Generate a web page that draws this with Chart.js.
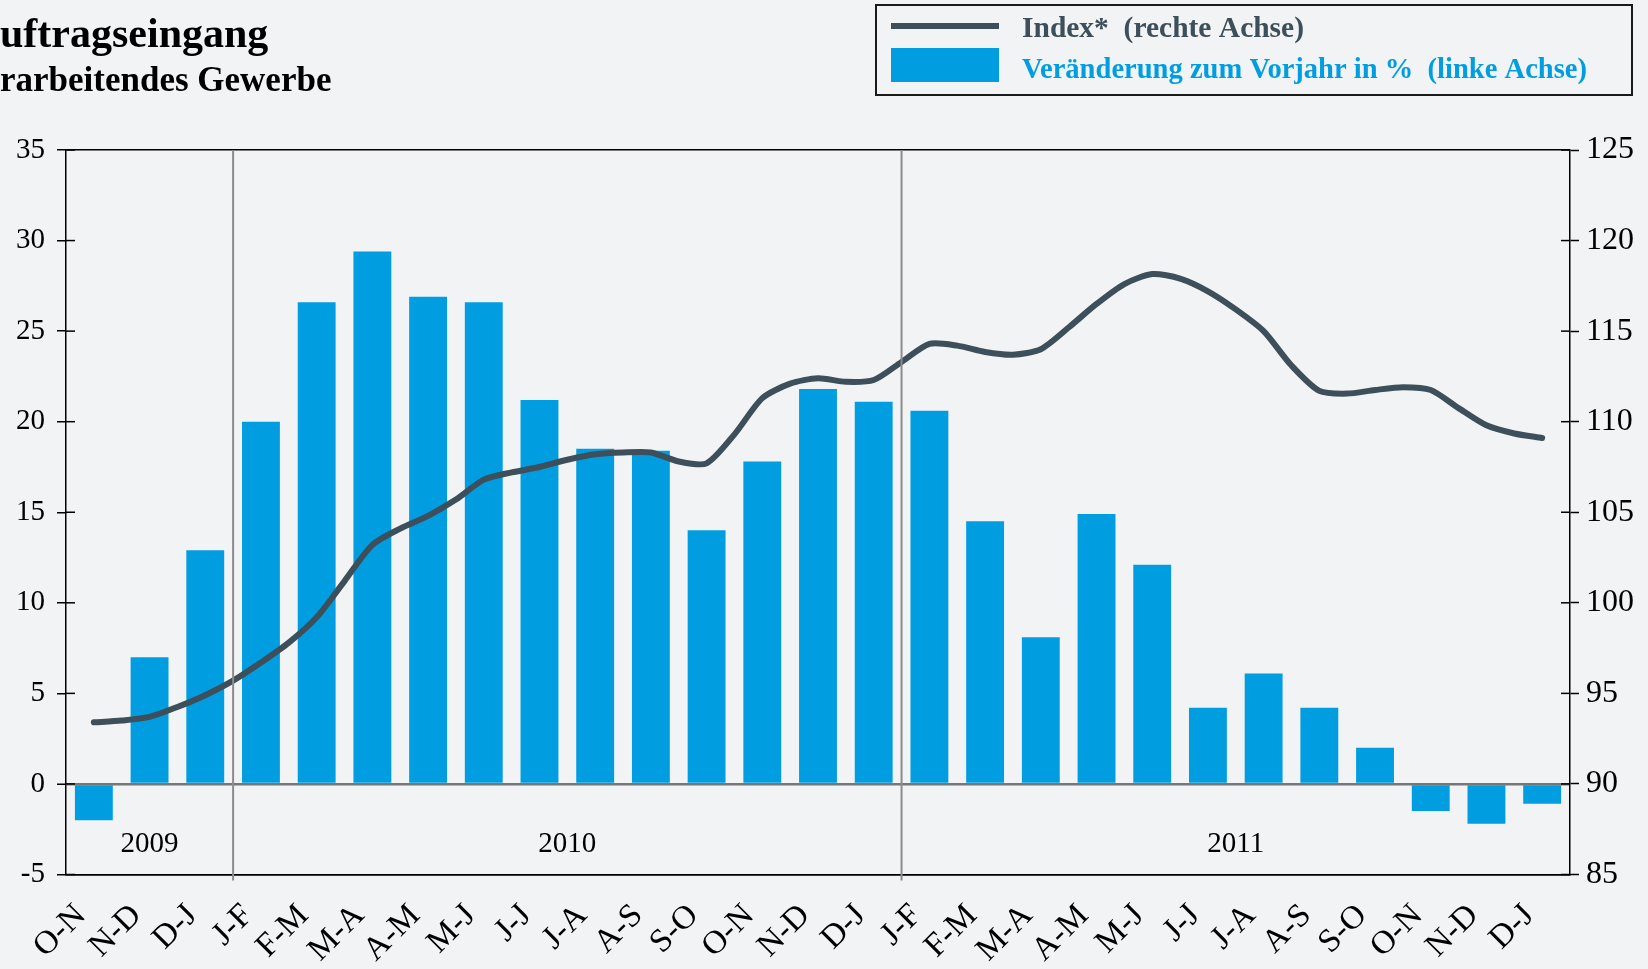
<!DOCTYPE html>
<html>
<head>
<meta charset="utf-8">
<script src="https://cdn.jsdelivr.net/npm/chart.js@4.4.1/dist/chart.umd.min.js"></script>
<style>
    html, body { margin: 0; padding: 0; background: #f2f3f5; }
    #wrap { width: 1648px; height: 969px; position: relative; }
</style>
</head>
<body>
<div id="wrap"><canvas id="orderChart"></canvas></div>
<script>
// Auftragseingang - Verarbeitendes Gewerbe
const periods = ['O-N', 'N-D', 'D-J', 'J-F', 'F-M', 'M-A', 'A-M', 'M-J', 'J-J', 'J-A', 'A-S', 'S-O', 'O-N', 'N-D', 'D-J',
    'J-F', 'F-M', 'M-A', 'A-M', 'M-J', 'J-J', 'J-A', 'A-S', 'S-O', 'O-N', 'N-D', 'D-J'];
const yearLabels = ['2009', '2010', '2011'];
const yearStart = [0, 3, 15]; // first period of each year

// Veränderung zum Vorjahr in % (linke Achse)
const changePct = [-2.0, 7.0, 12.9, 20.0, 26.6, 29.4, 26.9, 26.6, 21.2, 18.5, 18.4, 14.0, 17.8, 21.8, 21.1,
    20.6, 14.5, 8.1, 14.9, 12.1, 4.2, 6.1, 4.2, 2.0, -1.5, -2.2, -1.1];

// Index* (rechte Achse), monthly - two values per period
const indexValues = [93.4, 93.5, 93.7, 94.25, 94.9, 95.7, 96.7, 97.8, 99.2, 101.2, 103.2, 104.1, 104.8, 105.7,
    106.8, 107.2, 107.5, 107.9, 108.2, 108.3, 108.3, 107.8, 107.7, 109.3, 111.3, 112.1, 112.4, 112.2, 112.3,
    113.3, 114.3, 114.2, 113.85, 113.7, 114.0, 115.2, 116.5, 117.6, 118.15, 117.9, 117.2, 116.2, 115.0, 113.1,
    111.7, 111.55, 111.75, 111.9, 111.75, 110.75, 109.8, 109.35, 109.1];

// axis ranges / tick step
const leftRange = [-5, 35];
const rightRange = [85, 125];
const tickStep = 5;

const barColor = '#009ee0';
const lineColor = '#3d4f5a';
const serif = "'Liberation Serif', 'Times New Roman', serif";

const chartDecor = {
    id: 'chartDecor',
    beforeDraw(chart) {
        const ctx = chart.ctx;
        ctx.save();
        ctx.fillStyle = '#f2f3f5';
        ctx.fillRect(0, 0, chart.width, chart.height);
        ctx.restore();
    },
    afterDatasetsDraw(chart) {
        const ctx = chart.ctx;
        const area = chart.chartArea;
        const x = chart.scales.x;
        ctx.save();
        // year separators
        const seps = yearStart.slice(1).map(i => (x.getPixelForValue(i - 1) + x.getPixelForValue(i)) / 2);
        ctx.strokeStyle = '#8c8c8c';
        ctx.lineWidth = 2;
        seps.forEach(px => {
            ctx.beginPath();
            ctx.moveTo(px, area.top);
            ctx.lineTo(px, area.bottom + 6);
            ctx.stroke();
        });
        // year labels
        const bounds = [area.left, ...seps, area.right];
        ctx.fillStyle = '#000';
        ctx.font = '29px ' + serif;
        ctx.textAlign = 'center';
        ctx.textBaseline = 'middle';
        yearLabels.forEach((t, i) => {
            ctx.fillText(t, (bounds[i] + bounds[i + 1]) / 2, area.bottom - 30);
        });
        // inner half of the tick marks
        ctx.strokeStyle = '#000';
        ctx.lineWidth = 1.5;
        chart.scales.y.ticks.forEach(t => {
            const py = chart.scales.y.getPixelForValue(t.value);
            ctx.beginPath(); ctx.moveTo(area.left, py); ctx.lineTo(area.left + 9, py); ctx.stroke();
        });
        chart.scales.y2.ticks.forEach(t => {
            const py = chart.scales.y2.getPixelForValue(t.value);
            ctx.beginPath(); ctx.moveTo(area.right - 9, py); ctx.lineTo(area.right, py); ctx.stroke();
        });
        ctx.restore();
    },
    afterDraw(chart) {
        const ctx = chart.ctx;
        ctx.save();
        // title (cut at the left edge as in the original)
        ctx.fillStyle = '#000';
        ctx.textBaseline = 'alphabetic';
        ctx.textAlign = 'left';
        ctx.font = 'bold 42px ' + serif;
        ctx.fillText('Auftragseingang', -ctx.measureText('A').width, 47);
        ctx.font = 'bold 35px ' + serif;
        ctx.fillText('Verarbeitendes Gewerbe', -ctx.measureText('Ve').width, 91);

        // legend
        ctx.strokeStyle = '#1a1a1a';
        ctx.lineWidth = 2;
        ctx.strokeRect(876, 5, 756, 90);
        ctx.strokeStyle = lineColor;
        ctx.lineWidth = 6;
        ctx.beginPath(); ctx.moveTo(891, 26); ctx.lineTo(999, 26); ctx.stroke();
        ctx.fillStyle = barColor;
        ctx.fillRect(891, 48, 108, 34);

        const ds = chart.data.datasets;
        ctx.font = 'bold 29px ' + serif;
        const drawFit = (text, tx, ty, width, color) => {
            const w = ctx.measureText(text).width;
            ctx.save();
            ctx.fillStyle = color;
            ctx.translate(tx, ty);
            ctx.scale(width / w, 1);
            ctx.fillText(text, 0, 0);
            ctx.restore();
        };
        drawFit(ds[0].label, 1022, 37, 282, lineColor);
        drawFit(ds[1].label, 1022, 78, 565, barColor);
        ctx.restore();
    }
};

const orderData = {
    labels: periods,
    datasets: [
        {
            type: 'line',
            label: 'Index*  (rechte Achse)',
            // half-period steps on the category axis (index units)
            data: indexValues.map((v, i) => ({ x: i / 2, y: v })),
            parsing: false,
            normalized: true,
            xAxisID: 'x',
            yAxisID: 'y2',
            borderColor: lineColor,
            borderWidth: 6,
            borderCapStyle: 'round',
            borderJoinStyle: 'round',
            pointRadius: 0,
            tension: 0.25,
            order: 0
        },
        {
            type: 'bar',
            label: 'Veränderung zum Vorjahr in %  (linke Achse)',
            data: changePct,
            xAxisID: 'x',
            yAxisID: 'y',
            backgroundColor: barColor,
            borderWidth: 0,
            categoryPercentage: 1,
            barPercentage: 0.68,
            order: 1
        }
    ]
};

const orderConfig = {
    type: 'bar',
    data: orderData,
    options: {
        responsive: true,
        maintainAspectRatio: false,
        animation: false,
        layout: { padding: { top: 150, left: 0, right: 0, bottom: 0 } },
        scales: {
            x: {
                afterFit: s => { s.height = 94.5; },
                grid: { display: false, drawTicks: false },
                border: { display: true, color: '#000', width: 1.5 },
                ticks: {
                    color: '#000',
                    font: { family: serif, size: 33 },
                    minRotation: 45,
                    maxRotation: 45,
                    autoSkip: false,
                    padding: 22,
                    labelOffset: -13
                }
            },
            y: {
                position: 'left',
                min: leftRange[0],
                max: leftRange[1],
                afterFit: s => { s.width = 66; },
                grid: {
                    color: c => c.tick.value === 0 ? '#777' : (c.tick.value === leftRange[1] || c.tick.value === leftRange[0] ? '#000' : 'rgba(0,0,0,0)'),
                    lineWidth: c => c.tick.value === 0 ? 2.5 : 1.5,
                    tickColor: '#000',
                    tickWidth: 1.5,
                    tickLength: 9
                },
                border: { display: true, color: '#000', width: 1.5 },
                ticks: {
                    stepSize: tickStep,
                    color: '#000',
                    padding: 12,
                    font: { family: serif, size: 29 }
                }
            },
            y2: {
                position: 'right',
                min: rightRange[0],
                max: rightRange[1],
                afterFit: s => { s.width = 78; },
                grid: {
                    drawOnChartArea: false,
                    tickColor: '#000',
                    tickWidth: 1.5,
                    tickLength: 9
                },
                border: { display: true, color: '#000', width: 1.5 },
                ticks: {
                    stepSize: tickStep,
                    color: '#000',
                    padding: 7,
                    font: { family: serif, size: 32 }
                }
            }
        },
        plugins: {
            legend: { display: false },
            tooltip: { enabled: false }
        }
    },
    plugins: [chartDecor]
};

const orderElement = document.querySelector('#orderChart');
const orderChart = new Chart(orderElement, orderConfig);
</script>
</body>
</html>
